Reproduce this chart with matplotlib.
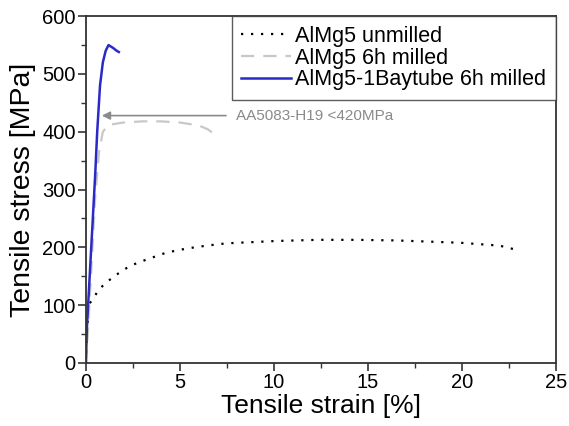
import matplotlib.pyplot as plt
from matplotlib.ticker import MultipleLocator

plt.rcParams['font.family'] = ['Liberation Sans', 'DejaVu Sans']

# AlMg5 unmilled (dotted black)
strain_unmilled = [0, 0.05, 0.2, 0.74, 1.45, 2.34, 3.23, 4.29, 5.36, 6.42, 7.48,
                   10.1, 12.3, 14.4, 16.5, 19.9, 22.0, 23.0]
stress_unmilled = [0, 60, 103, 129, 149, 168, 179, 191, 198, 203, 207,
                   211, 213, 213, 212, 208, 203, 195]

# AlMg5 6h milled (grey dashed)
strain_milled = [0, 0.1, 0.3, 0.5, 0.7, 0.9, 1.2, 2, 3, 4, 5, 6, 6.5, 6.9]
stress_milled = [0, 50, 170, 290, 365, 400, 412, 416, 418, 418, 416, 411, 404, 394]

# AlMg5-1Baytube 6h milled (blue solid)
strain_cnt = [0, 0.05, 0.2, 0.35, 0.5, 0.6, 0.75, 0.9, 1.05, 1.2, 1.3, 1.45, 1.6, 1.75]
stress_cnt = [0, 60, 150, 240, 330, 400, 480, 520, 540, 550, 548, 545, 541, 538]

fig = plt.figure(figsize=(5.69, 4.26), dpi=100)
ax = fig.add_axes([0.151, 0.148, 0.826, 0.814])

ax.plot(strain_unmilled, stress_unmilled, color='black', linestyle=(0, (1, 3.5)),
        linewidth=1.6, label='AlMg5 unmilled')
ax.plot(strain_milled, stress_milled, color='#c8c8c8', linestyle=(0, (6, 4)),
        linewidth=1.6, label='AlMg5 6h milled')
ax.plot(strain_cnt, stress_cnt, color='#2a2ac8', linewidth=1.8,
        label='AlMg5-1Baytube 6h milled')

# reference strength annotation
ax.annotate('', xy=(0.7, 428), xytext=(7.6, 428),
            arrowprops=dict(arrowstyle='-|>', color='#8a8a8a', lw=1.2,
                            mutation_scale=12))
ax.text(8.0, 428, 'AA5083-H19 <420MPa', color='#8a8a8a', fontsize=11,
        va='center', ha='left')

ax.set_xlim(0, 25)
ax.set_ylim(0, 600)
ax.xaxis.set_major_locator(MultipleLocator(5))
ax.xaxis.set_minor_locator(MultipleLocator(2.5))
ax.yaxis.set_major_locator(MultipleLocator(100))
ax.yaxis.set_minor_locator(MultipleLocator(50))
ax.tick_params(which='major', direction='out', length=5.5, width=1.2,
               labelsize=14.5, color='#333333', pad=2)
ax.tick_params(which='minor', direction='out', length=3.5, width=1.0,
               color='#333333')
for s in ax.spines.values():
    s.set_linewidth(1.3)
    s.set_color('#333333')

ax.set_xlabel('Tensile strain [%]', fontsize=19, labelpad=1)
ax.set_ylabel('Tensile stress [MPa]', fontsize=20.5, labelpad=4)

leg = ax.legend(loc='upper right', bbox_to_anchor=(1.0, 1.0), fontsize=15.5,
                frameon=True, fancybox=False, borderaxespad=0,
                labelspacing=0.03, handlelength=2.3, handletextpad=0.2,
                borderpad=0.45)
leg.get_frame().set_edgecolor('#333333')
leg.get_frame().set_linewidth(1.0)

fig.savefig('out.png', dpi=100)
